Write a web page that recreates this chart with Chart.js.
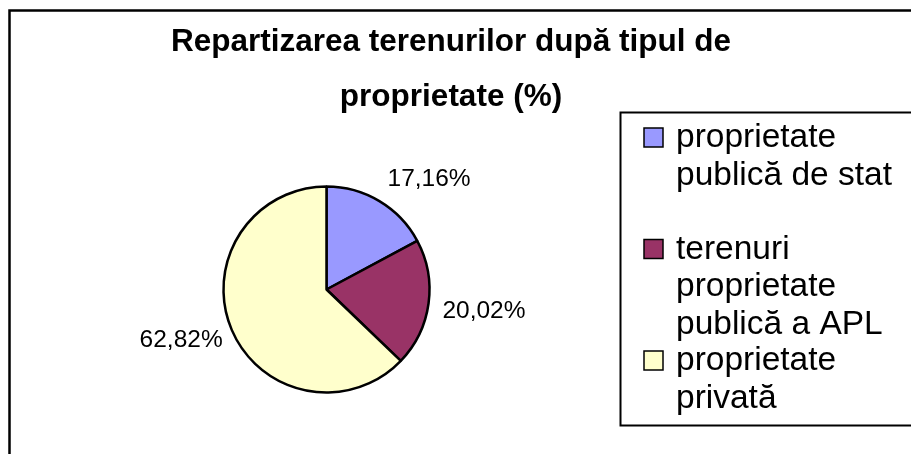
<!DOCTYPE html>
<html lang="ro">
<head>
    <meta charset="UTF-8">
    <title>Repartizarea terenurilor după tipul de proprietate</title>
    <script src="https://cdn.jsdelivr.net/npm/chart.js"></script>
    <style>
        html, body { margin: 0; padding: 0; background: #fff; overflow: hidden; }
        canvas { display: block; }
    </style>
</head>
<body>
    <canvas id="myChart" width="911" height="454"></canvas>

    <script>
        // Chart data
        const titleLines = ['Repartizarea terenurilor după tipul de', 'proprietate (%)'];
        const categories = [
            ['proprietate', 'publică de stat'],
            ['terenuri', 'proprietate', 'publică a APL'],
            ['proprietate', 'privată']
        ];
        const shares = [17.16, 20.02, 62.82];
        const sliceColors = ['#9999FF', '#993366', '#FFFFCC'];

        const FONT = '"Liberation Sans", Arial, sans-serif';

        const formatPct = v => v.toFixed(2).replace('.', ',') + '%';

        // Draws frame, title, slice labels and the legend box
        const decorations = {
            id: 'decorations',
            afterDraw(chart) {
                const ctx = chart.ctx;
                ctx.save();

                // outer frame (right and bottom run off the picture)
                ctx.strokeStyle = '#000';
                ctx.lineWidth = 2.5;
                ctx.strokeRect(9.5, 10.5, 940, 480);

                // title
                ctx.fillStyle = '#000';
                ctx.textAlign = 'center';
                ctx.textBaseline = 'alphabetic';
                ctx.font = 'bold 31.5px ' + FONT;
                titleLines.forEach((line, i) => {
                    ctx.fillText(line, 451, 51 + i * 55);
                });

                // slice labels, placed outside each slice along its middle angle
                ctx.font = '24.5px ' + FONT;
                const meta = chart.getDatasetMeta(0);
                meta.data.forEach((arc, i) => {
                    const p = arc.getProps(['x', 'y', 'startAngle', 'endAngle', 'outerRadius'], true);
                    const mid = (p.startAngle + p.endAngle) / 2;
                    const dx = Math.cos(mid);
                    const dy = Math.sin(mid);
                    const d = p.outerRadius + 12;
                    const ax = p.x + dx * d;
                    const ay = p.y + dy * d;
                    const text = formatPct(shares[i]);
                    const h = 17;
                    ctx.textAlign = dx >= 0 ? 'left' : 'right';
                    let base;
                    if (dy < -0.5) base = ay - 5;
                    else if (dy > 0.5) base = ay + h;
                    else base = ay + h / 2 + 4;
                    ctx.fillText(text, ax + (dx >= 0 ? 2 : 2), base);
                });

                // legend box
                ctx.lineWidth = 2;
                ctx.strokeRect(620.5, 112.5, 400, 313);
                ctx.font = '33.5px ' + FONT;
                ctx.textAlign = 'left';
                categories.forEach((lines, i) => {
                    const baseY = 147 + i * 111.5;
                    ctx.fillStyle = sliceColors[i];
                    ctx.fillRect(644, baseY - 19, 19, 19);
                    ctx.lineWidth = 1.5;
                    ctx.strokeStyle = '#000';
                    ctx.strokeRect(644, baseY - 19, 19, 19);
                    ctx.fillStyle = '#000';
                    lines.forEach((line, k) => {
                        ctx.fillText(line, 676, baseY + k * 37.5);
                    });
                });

                ctx.restore();
            }
        };

        const ctx = document.getElementById('myChart').getContext('2d');
        const myChart = new Chart(ctx, {
            type: 'pie',
            data: {
                labels: categories,
                datasets: [{
                    data: shares,
                    backgroundColor: sliceColors,
                    borderColor: '#000',
                    borderWidth: 2.5
                }]
            },
            options: {
                responsive: false,
                animation: false,
                radius: 103,
                layout: {
                    padding: { left: 200, right: 458, top: 170, bottom: 45 }
                },
                plugins: {
                    legend: { display: false },
                    title: { display: false },
                    tooltip: { enabled: false }
                }
            },
            plugins: [decorations]
        });
    </script>
</body>
</html>
